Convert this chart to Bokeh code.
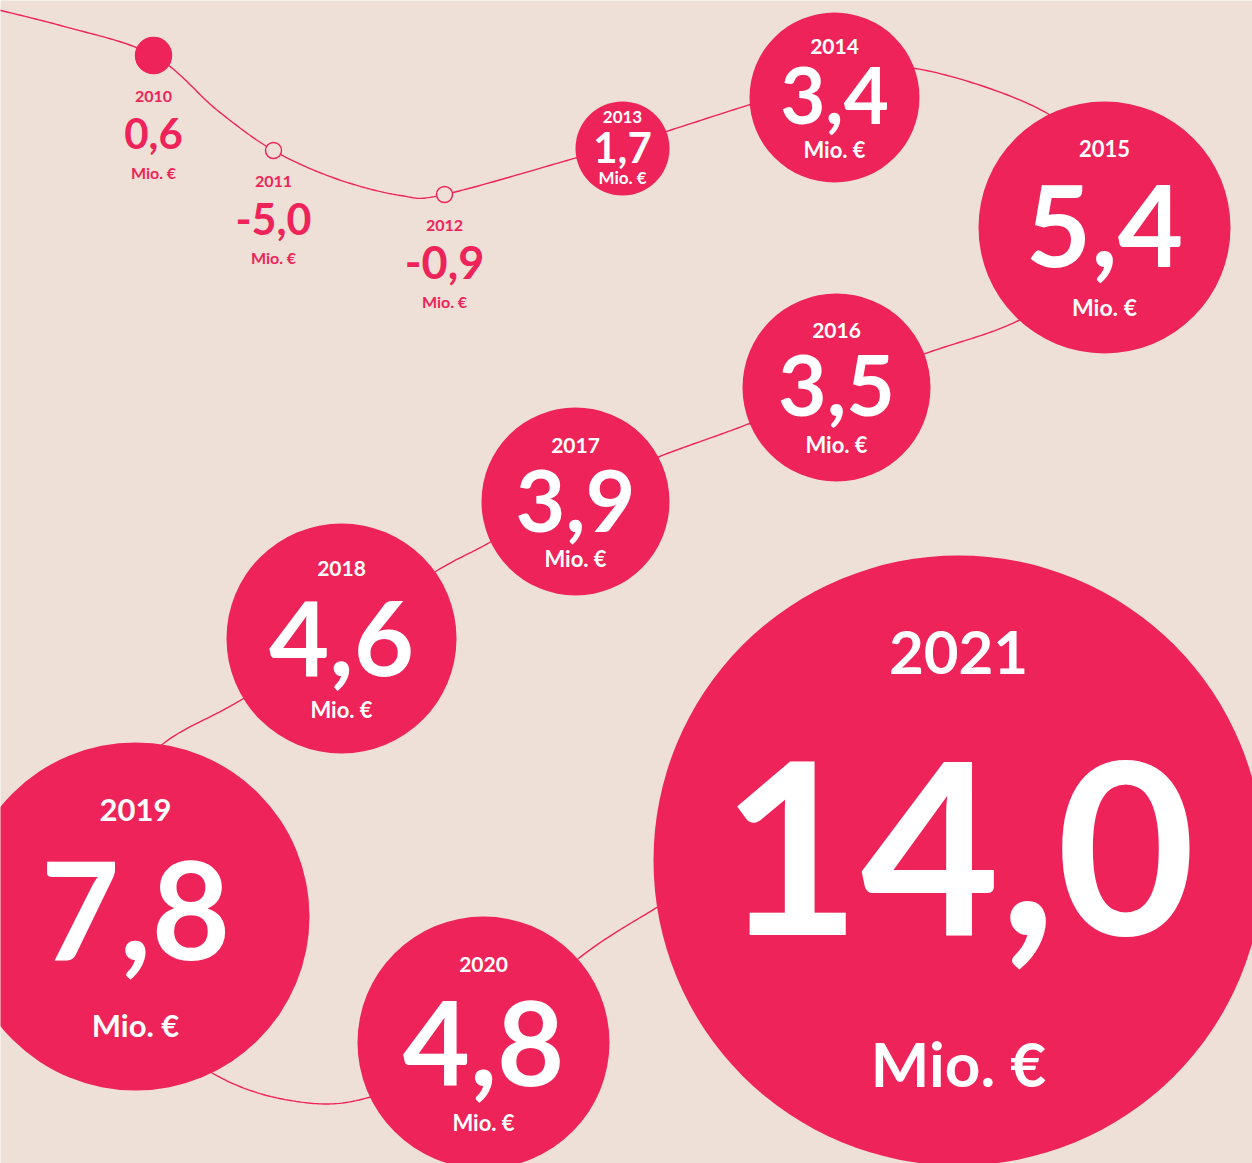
import numpy as np
from bokeh.plotting import figure
from bokeh.models import Range1d, ColumnDataSource
from bokeh.core.properties import value
from bokeh.embed import file_html
from bokeh.resources import INLINE

# ---------------- data ----------------
years = ["2010", "2011", "2012", "2013", "2014", "2015", "2016", "2017", "2018", "2019", "2020", "2021"]
values = [0.6, -5.0, -0.9, 1.7, 3.4, 5.4, 3.5, 3.9, 4.6, 7.8, 4.8, 14.0]
unit = "Mio. €"

# ---------------- layout (pixel space, y downwards) ----------------
cx = [153, 273, 444, 622, 834, 1104, 836, 575, 341, 135, 483, 958]
cy = [55, 150, 194, 148, 97, 227, 387, 501, 638, 916, 1042, 860]
rad = [18, 8, 8, 47, 85, 126, 94, 94, 115, 174, 126, 305]
dot_filled = [True, False, False]            # markers of the first three years
bubble = [False, False, False, True, True, True, True, True, True, True, True, True]
year_fs = [16, 16, 16, 17, 21, 22, 21, 21, 21, 31, 21, 60]
val_fs = [42, 43, 45, 42, 78, 113, 84, 86, 104, 136, 116, 240]
unit_fs = [16, 16, 16, 17, 22, 23, 22, 22, 22, 31, 22, 62]
# text offsets inside bubbles (relative to bubble centre)
year_dy = [0, 0, 0, -32, -51, -79, -57, -56, -70, -107, -78, -208]
val_dy = [0, 0, 0, -1, -2, -2, -2, -1, 0, -6, 1, -13]
unit_dy = [0, 0, 0, 29, 52, 79, 57, 57, 71, 108, 80, 202]

# route of the decorative connecting line (smoothed through these points)
route_x = [-80, 60, 153, 217, 273, 335, 400, 444, 577, 622, 750, 834, 915, 1047, 1095, 1090, 1018,
           925, 836, 749, 659, 575, 489, 435, 341, 243, 163, 115, 100, 140, 211, 290, 368, 480, 578,
           658, 740, 800]
route_y = [-9, 25, 55, 110, 150, 178, 195, 194, 157, 145, 104, 80, 68, 113, 175, 270, 320,
           353, 386, 423, 456, 491, 542, 571, 632, 698, 743, 800, 900, 1010, 1072, 1100, 1097, 1045, 958,
           906, 858, 825]

BG = "#EEE0D6"
PINK = "#EE2359"
FONT = "Lato"

W, H = 1252, 1163

p = figure(width=W, height=H, x_range=Range1d(0, W), y_range=Range1d(H, 0),
           output_backend="svg", toolbar_location=None, min_border=0,
           x_axis_location=None, y_axis_location=None,
           background_fill_color=BG, border_fill_color=BG, outline_line_color=None)
p.grid.visible = False

# ---------------- connecting curve (Catmull-Rom) ----------------
P = np.column_stack([route_x, route_y]).astype(float)
ext = np.vstack([2 * P[0] - P[1], P, 2 * P[-1] - P[-2]])
xs, ys = [], []
t = np.linspace(0, 1, 30)[:, None]
h00 = 2 * t**3 - 3 * t**2 + 1
h10 = t**3 - 2 * t**2 + t
h01 = -2 * t**3 + 3 * t**2
h11 = t**3 - t**2
for i in range(1, len(ext) - 2):
    p0, p1, p2, p3 = ext[i - 1], ext[i], ext[i + 1], ext[i + 2]
    m1 = (p2 - p0) / 2
    m2 = (p3 - p1) / 2
    seg = h00 * p1 + h10 * m1 + h01 * p2 + h11 * m2
    xs.extend(seg[:, 0])
    ys.extend(seg[:, 1])
p.line(xs, ys, line_color=PINK, line_width=1.4)

# ---------------- markers ----------------
labels = [f"{v:.1f}".replace(".", ",") for v in values]

b_idx = [i for i in range(len(years)) if bubble[i]]
s_idx = [i for i in range(len(years)) if not bubble[i]]

bsrc = ColumnDataSource(dict(
    x=[cx[i] for i in b_idx], y=[cy[i] for i in b_idx], r=[rad[i] for i in b_idx],
    year=[years[i] for i in b_idx], val=[labels[i] for i in b_idx],
    unit=[unit] * len(b_idx),
    yy=[cy[i] + year_dy[i] for i in b_idx],
    vy=[cy[i] + val_dy[i] for i in b_idx],
    uy=[cy[i] + unit_dy[i] for i in b_idx],
    yfs=[f"{year_fs[i]}px" for i in b_idx],
    vfs=[f"{val_fs[i]}px" for i in b_idx],
    ufs=[f"{unit_fs[i]}px" for i in b_idx],
))
p.circle(x="x", y="y", radius="r", source=bsrc, fill_color=PINK, line_color=None)

ssrc = ColumnDataSource(dict(
    x=[cx[i] for i in s_idx], y=[cy[i] for i in s_idx], r=[rad[i] for i in s_idx],
    fill=[PINK if dot_filled[k] else BG for k, i in enumerate(s_idx)],
    year=[years[i] for i in s_idx], val=[labels[i] for i in s_idx],
    unit=[unit] * len(s_idx),
    yy=[cy[i] + rad[i] + 23 for i in s_idx],
    vy=[cy[i] + rad[i] + 60 for i in s_idx],
    uy=[cy[i] + rad[i] + 99 for i in s_idx],
    yfs=[f"{year_fs[i]}px" for i in s_idx],
    vfs=[f"{val_fs[i]}px" for i in s_idx],
    ufs=[f"{unit_fs[i]}px" for i in s_idx],
))
p.circle(x="x", y="y", radius="r", source=ssrc, fill_color="fill", line_color=PINK, line_width=1.4)

for src, col in ((bsrc, "white"), (ssrc, PINK)):
    p.text(x="x", y="yy", text="year", source=src, text_font=value(FONT), text_font_size="yfs",
           text_font_style="bold", text_color=col, text_align="center", text_baseline="middle")
    p.text(x="x", y="vy", text="val", source=src, text_font=value(FONT), text_font_size="vfs",
           text_font_style="bold", text_color=col, text_align="center", text_baseline="middle")
    p.text(x="x", y="uy", text="unit", source=src, text_font=value(FONT), text_font_size="ufs",
           text_font_style="bold", text_color=col, text_align="center", text_baseline="middle")

open("out.html", "w").write(file_html(p, INLINE))
